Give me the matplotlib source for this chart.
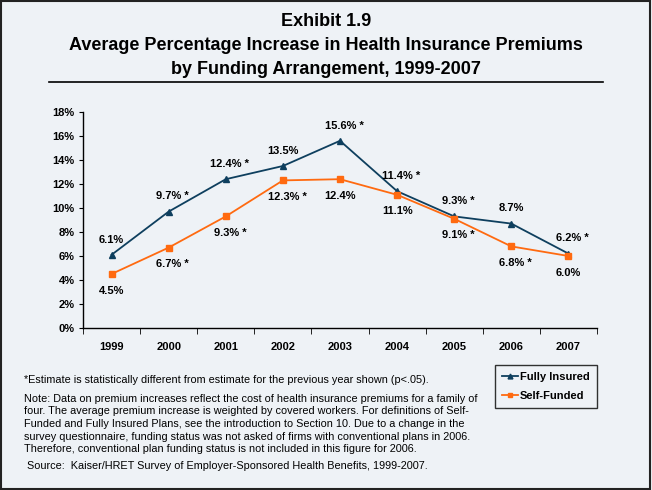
import matplotlib
matplotlib.use("Agg")
import matplotlib.pyplot as plt
from matplotlib.patches import Rectangle
from matplotlib.lines import Line2D

plt.rcParams['font.family'] = ['Liberation Sans', 'DejaVu Sans']

years = ['1999', '2000', '2001', '2002', '2003', '2004', '2005', '2006', '2007']
fully_insured = [6.1, 9.7, 12.4, 13.5, 15.6, 11.4, 9.3, 8.7, 6.2]
self_funded = [4.5, 6.7, 9.3, 12.3, 12.4, 11.1, 9.1, 6.8, 6.0]
fi_star = [False, True, True, False, True, True, True, False, True]
sf_star = [False, True, True, True, False, False, True, True, False]
y_ticks = [0, 2, 4, 6, 8, 10, 12, 14, 16, 18]

note_lines = [
    'Note: Data on premium increases reflect the cost of health insurance premiums for a family of',
    'four. The average premium increase is weighted by covered workers. For definitions of Self-',
    'Funded and Fully Insured Plans, see the introduction to Section 10. Due to a change in the',
    'survey questionnaire, funding status was not asked of firms with conventional plans in 2006.',
    'Therefore, conventional plan funding status is not included in this figure for 2006.',
]

bg = '#EEF2F6'
navy = '#0E3F5E'
orange = '#FF6A10'

fig = plt.figure(figsize=(6.52, 4.9), dpi=100, facecolor=bg)

# outer frame
fig.patches.append(Rectangle((0.001, 0.002), 0.996, 0.996, transform=fig.transFigure,
                             fill=False, edgecolor='#222222', linewidth=1.5))

# title block
fig.text(0.5, 1 - 21 / 490, 'Exhibit 1.9', ha='center', va='center',
         fontsize=13, fontweight='bold')
fig.text(0.5, 1 - 46 / 490, 'Average Percentage Increase in Health Insurance Premiums',
         ha='center', va='center', fontsize=13, fontweight='bold')
fig.text(0.5, 1 - 69 / 490, 'by Funding Arrangement, 1999-2007',
         ha='center', va='center', fontsize=13, fontweight='bold')
fig.lines.append(Line2D([49 / 652, 603 / 652], [1 - 82 / 490, 1 - 82 / 490],
                        transform=fig.transFigure, color='black', linewidth=1.2))

ax = fig.add_axes([83 / 652, 1 - 328 / 490, 514 / 652, 216 / 490])
ax.set_facecolor(bg)
x = list(range(len(years)))

ax.plot(x, fully_insured, color=navy, marker='^', markersize=5, linewidth=1.3,
        label='Fully Insured')
ax.plot(x, self_funded, color=orange, marker='s', markersize=5, linewidth=1.3,
        label='Self-Funded')

for i in x:
    t = f'{fully_insured[i]:.1f}%' + (' *' if fi_star[i] else '')
    ax.annotate(t, (i, fully_insured[i]), xytext=(3 if fi_star[i] else 0, 11),
                textcoords='offset points', ha='center', va='center',
                fontsize=8, fontweight='bold')
    t = f'{self_funded[i]:.1f}%' + (' *' if sf_star[i] else '')
    ax.annotate(t, (i, self_funded[i]), xytext=(3 if sf_star[i] else 0, -12),
                textcoords='offset points', ha='center', va='center',
                fontsize=8, fontweight='bold')

ax.set_xlim(-0.5, len(years) - 0.5)
ax.set_ylim(0, 18)
ax.set_yticks(y_ticks)
ax.set_yticklabels([f'{v}%' for v in y_ticks], fontsize=8, fontweight='bold')
ax.set_xticks(x)
ax.set_xticklabels(years, fontsize=8, fontweight='bold')
ax.set_xticks([i - 0.5 for i in range(len(years) + 1)], minor=True)
ax.tick_params(axis='x', which='major', length=0, pad=10)
ax.tick_params(axis='x', which='minor', length=4, direction='out', color='black')
ax.tick_params(axis='y', length=3, direction='out', pad=3)
for s in ['top', 'right']:
    ax.spines[s].set_visible(False)
for s in ['left', 'bottom']:
    ax.spines[s].set_color('black')
    ax.spines[s].set_linewidth(1.0)

leg = fig.legend(loc='upper left', bbox_to_anchor=(495 / 652, 1 - 365 / 490),
                 borderaxespad=0, frameon=True, fancybox=False, handlelength=1.4,
                 handletextpad=0.2, borderpad=0.65, labelspacing=0.8,
                 prop={'weight': 'bold', 'size': 8})
leg.get_frame().set_edgecolor('black')
leg.get_frame().set_facecolor(bg)
leg.get_frame().set_linewidth(1.0)
for h in leg.legend_handles:
    h.set_markersize(3.5)

fig.text(24 / 652, 1 - 380 / 490,
         '*Estimate is statistically different from estimate for the previous year shown (p<.05).',
         ha='left', va='center', fontsize=7.8)
for k, line in enumerate(note_lines):
    fig.text(24 / 652, 1 - (399 + 12.5 * k) / 490, line, ha='left', va='center',
             fontsize=7.8)
fig.text(27 / 652, 1 - 466 / 490,
         'Source:  Kaiser/HRET Survey of Employer-Sponsored Health Benefits, 1999-2007.',
         ha='left', va='center', fontsize=7.8)

fig.savefig('out.png', dpi=100, facecolor=bg)
